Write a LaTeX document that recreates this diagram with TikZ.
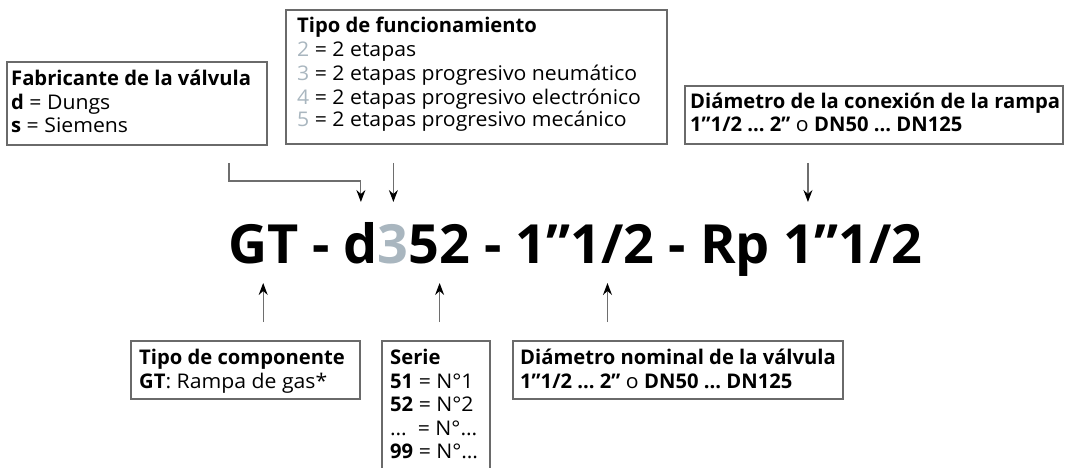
\documentclass[tikz,border=0pt]{standalone}
\usepackage{fontspec}
\setmainfont{Open Sans}[UprightFeatures={FakeStretch=1.05}]
\usetikzlibrary{arrows.meta,calc}
\definecolor{boxgray}{HTML}{6A6A6A}
\definecolor{linegray}{HTML}{6E6E6E}
\definecolor{numgray}{HTML}{A9B6BF}
\newcommand{\gnum}[1]{\textcolor{numgray}{#1}}
\newcommand{\wsp}{\kern\fontdimen2\font\relax}
\begin{document}
\begin{tikzpicture}[x=1pt,y=-1pt,
  box/.style={draw=boxgray, line width=1.3pt, anchor=north west, inner sep=0pt, outer sep=0pt},
  ln/.style={anchor=base west, inner sep=0pt, font=\fontsize{20.2}{23}\selectfont},
  code/.style={anchor=base west, inner sep=0pt, outer sep=0pt, font=\fontsize{54}{58}\selectfont\bfseries},
  conn/.style={draw=linegray, line width=1.2pt},
  arr/.style={conn, -{Stealth[length=12pt,width=9pt,inset=4pt,color=black]}},
]
\useasboundingbox (0,0) rectangle (1072,468);

% boxes
\node[box, minimum width=260pt, minimum height=83pt] (fabbox) at (7,62) {};
\node[box, minimum width=381pt, minimum height=134pt] (tipobox) at (286,10) {};
\node[box, minimum width=378pt, minimum height=58pt] (connbox) at (685,86) {};
\node[box, minimum width=229pt, minimum height=58pt] (compbox) at (131,341) {};
\node[box, minimum width=108pt, minimum height=140pt] (seriebox) at (382,341) {};
\node[box, minimum width=330pt, minimum height=58pt] (diambox) at (513,341) {};

% texts
\node[ln] (fab1) at (11,86) {\textbf{Fabricante de la válvula}};
\node[ln] (fab2) at (11,109.5) {\textbf{d} = Dungs};
\node[ln] (fab3) at (11,133) {\textbf{s} = Siemens};

\node[ln] (tipo1) at (297,33) {\textbf{Tipo de funcionamiento}};
\node[ln] (tipo2) at (297,57) {\gnum{2} = 2 etapas};
\node[ln] (tipo3) at (297,81) {\gnum{3} = 2 etapas progresivo neumático};
\node[ln] (tipo4) at (297,104.5) {\gnum{4} = 2 etapas progresivo electrónico};
\node[ln] (tipo5) at (297,127) {\gnum{5} = 2 etapas progresivo mecánico};

\node[ln] (conn1) at (690,108.5) {\textbf{Diámetro de la conexión de la rampa}};
\node[ln] (conn2) at (690,132) {\textbf{1”1/2 … 2”} o \textbf{DN50 … DN125}};

\node[ln] (comp1) at (139,364.5) {\textbf{Tipo de componente}};
\node[ln] (comp2) at (139,388) {\textbf{GT}: Rampa de gas*};

\node[ln] (serie1) at (390,364.5) {\textbf{Serie}};
\node[ln] (serie2) at (390,388) {\textbf{51} = N°1};
\node[ln] (serie3) at (390,411.5) {\textbf{52} = N°2};
\node[ln] (serie4) at (390,435) {…\ \ = N°…};
\node[ln] (serie5) at (390,458.5) {\textbf{99} = N°…};

\node[ln] (diam1) at (520,364.5) {\textbf{Diámetro nominal de la válvula}};
\node[ln] (diam2) at (520,388) {\textbf{1”1/2 … 2”} o \textbf{DN50 … DN125}};

% code, in pieces so the arrows can point at them
\node[code] (cGT) at (228,263) {GT};
\node[code] (cs1) at (cGT.base east) {\wsp-\wsp};
\node[code] (cd) at (cs1.base east) {d};
\node[code] (c3) at (cd.base east) {\gnum{3}};
\node[code] (c52) at (c3.base east) {52};
\node[code] (cs2) at (c52.base east) {\wsp-\wsp};
\node[code] (cdn) at (cs2.base east) {1”1/2};
\node[code] (cs3) at (cdn.base east) {\wsp-\wsp};
\node[code] (crp) at (cs3.base east) {Rp\wsp};
\node[code] (crd) at (crp.base east) {1”1/2};

% connector levels and free ends
\coordinate (topy) at (0,202);
\coordinate (elby) at (0,181);
\coordinate (starty) at (0,163);
\coordinate (boty) at (0,283);
\coordinate (endy) at (0,322);
\coordinate (fabA) at (229,163);
\coordinate (diamX) at ($(cdn.west)!0.66!(cdn.east)$);
\coordinate (connX) at ($(crd.west)+(24,0)$);

\draw[arr] (fabA) -- (fabA |- elby) -- (cd |- elby) -- (cd |- topy);
\draw[arr] (c3 |- starty) -- (c3 |- topy);
\draw[arr] (connX |- starty) -- (connX |- topy);
\draw[arr] (cGT |- endy) -- (cGT |- boty);
\draw[arr] (c52 |- endy) -- (c52 |- boty);
\draw[arr] (diamX |- endy) -- (diamX |- boty);
\end{tikzpicture}
\end{document}
